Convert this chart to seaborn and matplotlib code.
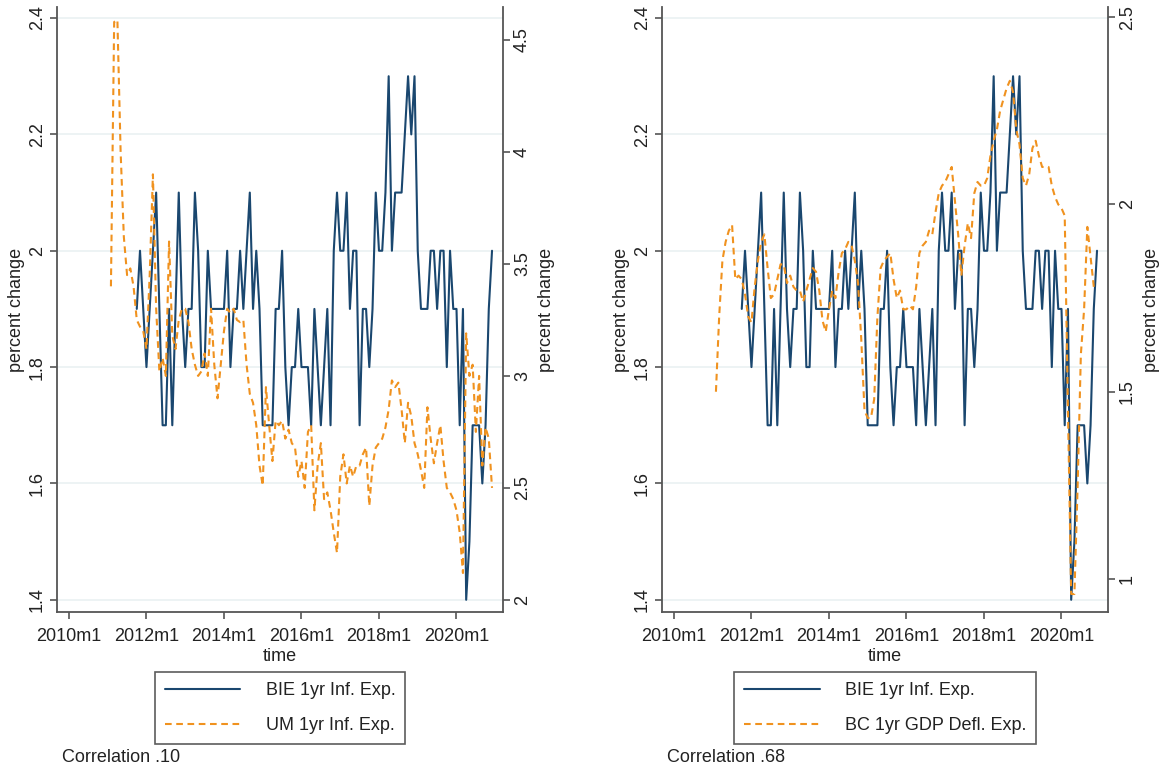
import numpy as np
import pandas as pd
import matplotlib
matplotlib.use("Agg")
import matplotlib.pyplot as plt
import seaborn as sns
from matplotlib.lines import Line2D

sns.set_theme(style="white")
plt.rcParams['font.family'] = ['Liberation Sans', 'DejaVu Sans']

# BIE 1yr inflation expectations, monthly from 2011m10
bie_start = "2011-10"
bie = [1.9, 2.0, 1.9,
       1.8, 1.9, 2.0, 2.1, 1.9, 1.7, 1.7, 1.9, 1.7, 1.9, 2.1, 1.9,
       1.8, 1.9, 1.9, 2.1, 2.0, 1.8, 1.8, 2.0, 1.9, 1.9, 1.9, 1.9,
       1.9, 2.0, 1.8, 1.9, 1.9, 2.0, 1.9, 2.0, 2.1, 1.9, 2.0, 1.9,
       1.7, 1.7, 1.7, 1.7, 1.9, 1.9, 2.0, 1.8, 1.7, 1.8, 1.8, 1.9,
       1.8, 1.8, 1.8, 1.7, 1.9, 1.8, 1.7, 1.8, 1.9, 1.7, 2.0, 2.1,
       2.0, 2.0, 2.1, 1.9, 2.0, 2.0, 1.7, 1.9, 1.9, 1.8, 1.9, 2.1,
       2.0, 2.0, 2.1, 2.3, 2.0, 2.1, 2.1, 2.1, 2.2, 2.3, 2.2, 2.3,
       2.0, 1.9, 1.9, 1.9, 2.0, 2.0, 1.9, 2.0, 2.0, 1.8, 2.0, 1.9,
       1.9, 1.7, 1.9, 1.4, 1.5, 1.7, 1.7, 1.7, 1.6, 1.7, 1.9, 2.0]

# UM 1yr inflation expectations, monthly from 2011m2
um_start = "2011-02"
um = [3.40, 4.58, 4.59, 4.00, 3.62, 3.45, 3.48, 3.40, 3.25, 3.22, 3.20,
      3.12, 3.45, 3.90, 3.30, 3.02, 3.08, 3.00, 3.60, 3.18, 3.12, 3.25, 3.30,
      3.30, 3.24, 3.12, 3.05, 3.00, 3.02, 3.10, 3.00, 3.30, 3.05, 2.90, 3.05,
      3.20, 3.30, 3.28, 3.30, 3.25, 3.24, 3.25, 3.05, 2.92, 2.88, 2.78, 2.60,
      2.51, 2.95, 2.78, 2.62, 2.80, 2.78, 2.80, 2.72, 2.76, 2.70, 2.68, 2.55,
      2.62, 2.50, 2.75, 2.78, 2.40, 2.60, 2.70, 2.45, 2.48, 2.40, 2.30, 2.21,
      2.55, 2.65, 2.52, 2.60, 2.55, 2.60, 2.60, 2.65, 2.68, 2.42, 2.60, 2.68,
      2.70, 2.72, 2.77, 2.85, 2.98, 2.95, 2.97, 2.85, 2.70, 2.88, 2.82, 2.70,
      2.65, 2.58, 2.50, 2.86, 2.72, 2.61, 2.70, 2.78, 2.62, 2.50, 2.48, 2.45,
      2.40, 2.30, 2.12, 3.19, 3.00, 3.05, 2.75, 3.00, 2.60, 2.77, 2.72, 2.50]

# BC 1yr GDP deflator expectations, monthly from 2011m2
bc_start = "2011-02"
bc = [1.50, 1.70, 1.85, 1.90, 1.93, 1.945, 1.80, 1.81, 1.80, 1.76, 1.70,
      1.685, 1.78, 1.85, 1.90, 1.92, 1.83, 1.75, 1.76, 1.80, 1.84, 1.84, 1.79,
      1.81, 1.78, 1.77, 1.77, 1.74, 1.77, 1.80, 1.83, 1.82, 1.77, 1.69, 1.66,
      1.72, 1.77, 1.75, 1.82, 1.87, 1.88, 1.90, 1.89, 1.85, 1.79, 1.64, 1.45,
      1.43, 1.43, 1.48, 1.70, 1.83, 1.85, 1.86, 1.87, 1.80, 1.75, 1.77, 1.72,
      1.72, 1.73, 1.72, 1.78, 1.87, 1.89, 1.90, 1.93, 1.92, 1.98, 2.03, 2.05,
      2.06, 2.08, 2.10, 2.01, 1.92, 1.81, 1.89, 1.95, 1.91, 2.03, 2.06, 2.05,
      2.05, 2.07, 2.13, 2.17, 2.20, 2.25, 2.28, 2.31, 2.33, 2.30, 2.20, 2.16,
      2.07, 2.05, 2.08, 2.15, 2.17, 2.13, 2.10, 2.10, 2.10, 2.05, 2.02, 2.00,
      1.99, 1.97, 1.45, 0.96, 0.96, 1.25, 1.60, 1.72, 1.94, 1.86, 1.78]

tick_years = [2010, 2012, 2014, 2016, 2018, 2020]
left_ticks = [1.4, 1.6, 1.8, 2.0, 2.2, 2.4]
left_labels = ["1.4", "1.6", "1.8", "2", "2.2", "2.4"]
um_ticks = [2, 2.5, 3, 3.5, 4, 4.5]
um_labels = ["2", "2.5", "3", "3.5", "4", "4.5"]
bc_ticks = [1, 1.5, 2, 2.5]
bc_labels = ["1", "1.5", "2", "2.5"]

NAVY = "#1a476f"
ORANGE = "#f0921f"
AXCOL = "#555555"
TXT = "#222222"


def to_frame(start, values):
    # Stata-style monthly index (1960m1 = 0)
    p = pd.Period(start, freq="M")
    base = (p.year - 1960) * 12 + p.month - 1
    return pd.DataFrame({"time": np.arange(base, base + len(values)), "value": values})


bie_df = to_frame(bie_start, bie)
um_df = to_frame(um_start, um)
bc_df = to_frame(bc_start, bc)

fig = plt.figure(figsize=(11.64, 7.73), dpi=100)
fig.patch.set_facecolor("white")


def draw_panel(left_px, other_df, other_label, other_ylim, other_ticks, other_labels, corr):
    ax = fig.add_axes([left_px / 1164, 161 / 773, 446 / 1164, 605 / 773])
    axr = ax.twinx()

    sns.lineplot(data=bie_df, x="time", y="value", ax=ax, color=NAVY,
                 linewidth=1.5, errorbar=None)
    sns.lineplot(data=other_df, x="time", y="value", ax=axr, color=ORANGE,
                 linewidth=1.5, errorbar=None, linestyle=(0, (3.2, 2.2)))

    ax.set_xlim(596.3, 734.4)
    ax.set_ylim(1.379, 2.419)
    axr.set_ylim(*other_ylim)

    ax.set_xticks([(y - 1960) * 12 for y in tick_years])
    ax.set_xticklabels([f"{y}m1" for y in tick_years])
    ax.set_yticks(left_ticks)
    ax.set_yticklabels(left_labels, rotation=90, va="center")
    axr.set_yticks(other_ticks)
    axr.set_yticklabels(other_labels, rotation=90, va="center")

    ax.yaxis.grid(True, color="#eaf1f2", linewidth=1.2)
    ax.xaxis.grid(False)
    ax.set_axisbelow(True)

    for a in (ax, axr):
        a.spines["top"].set_visible(False)
        for s in a.spines.values():
            s.set_color(AXCOL)
            s.set_linewidth(1.3)
    ax.spines["right"].set_visible(False)
    axr.spines["left"].set_visible(False)
    axr.spines["bottom"].set_visible(False)

    ax.tick_params(axis="x", bottom=True, direction="out", length=5, width=1.2,
                   color=AXCOL, labelsize=13, labelcolor=TXT, pad=6.5)
    ax.tick_params(axis="y", left=True, direction="out", length=5, width=1.2,
                   color=AXCOL, labelsize=13, labelcolor=TXT, pad=3)
    axr.tick_params(axis="y", right=True, direction="out", length=5, width=1.2,
                    color=AXCOL, labelsize=13, labelcolor=TXT, pad=3)

    ax.set_xlabel("time", fontsize=13, color=TXT, labelpad=2.5)
    ax.set_ylabel("percent change", fontsize=13, color=TXT, labelpad=3)
    axr.set_ylabel("percent change", fontsize=13, color=TXT, labelpad=5)

    handles = [Line2D([], [], color=NAVY, lw=1.5),
               Line2D([], [], color=ORANGE, lw=1.5, linestyle=(0, (3.2, 2.2)))]
    leg = ax.legend(handles, ["BIE 1yr Inf. Exp.", other_label], loc="upper center",
                    bbox_to_anchor=(0.5, -0.099), borderaxespad=0, frameon=True,
                    fancybox=False, edgecolor="#333333", fontsize=13,
                    handlelength=4.2, handletextpad=1.4, borderpad=0.55,
                    labelspacing=1.0)
    leg.get_frame().set_linewidth(1.2)
    for t in leg.get_texts():
        t.set_color(TXT)

    fig.text((left_px + 5) / 1164, 1 - 758 / 773, corr, fontsize=13,
             color=TXT, va="center", ha="left")


draw_panel(57, um_df, "UM 1yr Inf. Exp.", (1.946, 4.647), um_ticks, um_labels,
           "Correlation .10")
draw_panel(662, bc_df, "BC 1yr GDP Defl. Exp.", (0.912, 2.527), bc_ticks, bc_labels,
           "Correlation .68")

fig.savefig("out.png", dpi=100, facecolor="white")
